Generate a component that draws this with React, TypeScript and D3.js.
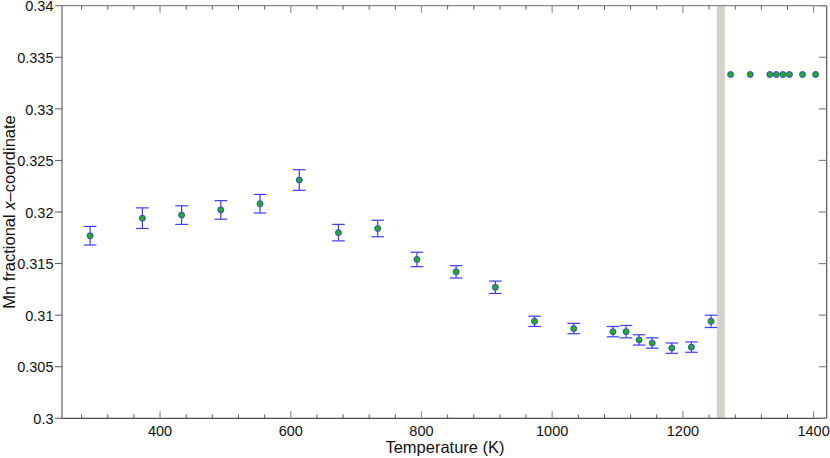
import * as d3 from 'd3';

// Mn fractional x-coordinate vs temperature (with error bars)
const temps = [293, 373, 433, 493, 553, 613, 673, 733, 793, 853, 913, 973, 1033, 1093, 1113, 1133, 1153, 1183, 1213, 1243];
const mnX = [0.3177, 0.3194, 0.3197, 0.3202, 0.3208, 0.3231, 0.3180, 0.3184, 0.3154, 0.3142, 0.3127, 0.3094, 0.3087, 0.3084, 0.3084, 0.3076, 0.3073, 0.3068, 0.3069, 0.3094];
const mnErr = [0.0009, 0.001, 0.0009, 0.0009, 0.0009, 0.001, 0.0008, 0.0008, 0.0007, 0.0006, 0.0006, 0.0005, 0.0005, 0.0005, 0.0006, 0.0005, 0.0005, 0.0005, 0.0005, 0.0006];

// high temperature phase: fixed at 1/3
const hiTemps = [1273, 1303, 1333, 1343, 1353, 1363, 1383, 1403];
const hiX = [0.33333, 0.33333, 0.33333, 0.33333, 0.33333, 0.33333, 0.33333, 0.33333];

const transitionBand = [1252, 1264];

const xTicks = [400, 600, 800, 1000, 1200, 1400];
const yTicks = [0.3, 0.305, 0.31, 0.315, 0.32, 0.325, 0.33, 0.335, 0.34];

const width = 830;
const height = 458;
const margin = { top: 5.7, right: 3.3, bottom: 39.7, left: 62 };
const font = 'Liberation Sans, Arial, Helvetica, sans-serif';

export default function App() {
  const x = d3.scaleLinear().domain([250, 1420]).range([margin.left, width - margin.right]);
  const y = d3.scaleLinear().domain([0.3, 0.34]).range([height - margin.bottom, margin.top]);

  const x0 = margin.left;
  const x1 = width - margin.right;
  const y0 = height - margin.bottom;
  const y1 = margin.top;

  const minorX = d3.range(280, 1420, 40).filter(v => v % 200 !== 0);
  const capW = 6.3;
  const errColor = '#3d3df5';

  return (
    <svg width={width} height={height} style={{ position: 'absolute', left: 0, top: 0, background: '#fff' }}>
      {/* transition band */}
      <rect
        x={x(transitionBand[0])}
        y={y1}
        width={x(transitionBand[1]) - x(transitionBand[0])}
        height={y0 - y1}
        fill="#d6d1c9"
      />

      {/* frame */}
      <line x1={x0} x2={x1} y1={y1} y2={y1} stroke="#8a8a8a" strokeWidth={1.3} />
      <line x1={x1} x2={x1} y1={y1} y2={y0} stroke="#555" strokeWidth={1.2} />
      <line x1={x0} x2={x1} y1={y0} y2={y0} stroke="#222" strokeWidth={1} />
      <line x1={x0} x2={x0} y1={y1} y2={y0} stroke="#8a8a8a" strokeWidth={1.6} />

      {/* x ticks, inside, top and bottom */}
      {minorX.map(v => (
        <g key={'mx' + v}>
          <line x1={x(v)} x2={x(v)} y1={y0} y2={y0 - 4} stroke="#333" strokeWidth={0.8} />
          <line x1={x(v)} x2={x(v)} y1={y1} y2={y1 + 4} stroke="#333" strokeWidth={0.8} />
        </g>
      ))}
      {xTicks.map(v => (
        <g key={'x' + v}>
          <line x1={x(v)} x2={x(v)} y1={y0} y2={y0 - 7} stroke="#999" strokeWidth={1.3} />
          <line x1={x(v)} x2={x(v)} y1={y1} y2={y1 + 7} stroke="#999" strokeWidth={1.3} />
          <text x={x(v)} y={436} textAnchor="middle" fontFamily={font} fontSize={14.5} fill="#111">
            {v}
          </text>
        </g>
      ))}

      {/* y ticks: outward on left, inward on right */}
      {yTicks.map(v => (
        <g key={'y' + v}>
          <line x1={x0 - 7} x2={x0} y1={y(v)} y2={y(v)} stroke="#555" strokeWidth={1} />
          <line x1={x1 - 8} x2={x1} y1={y(v)} y2={y(v)} stroke="#888" strokeWidth={1.2} />
          <text x={53.5} y={y(v)} dy="0.39em" textAnchor="end" fontFamily={font} fontSize={14.5} fill="#111">
            {d3.format('')(+v.toFixed(3))}
          </text>
        </g>
      ))}

      {/* error bars */}
      {temps.map((t, i) => {
        const cx = x(t);
        const top = y(mnX[i] + mnErr[i]);
        const bot = y(mnX[i] - mnErr[i]);
        return (
          <g key={'e' + t} stroke={errColor} strokeWidth={1.2}>
            <line x1={cx} x2={cx} y1={top} y2={bot} />
            <line x1={cx - capW} x2={cx + capW} y1={top} y2={top} />
            <line x1={cx - capW} x2={cx + capW} y1={bot} y2={bot} />
          </g>
        );
      })}

      {/* markers */}
      {temps.map((t, i) => (
        <circle key={'p' + t} cx={x(t)} cy={y(mnX[i])} r={3} fill="#1fae22" stroke="#3a48d8" strokeWidth={1} />
      ))}
      {hiTemps.map((t, i) => (
        <circle key={'h' + t} cx={x(t)} cy={y(hiX[i])} r={3} fill="#1fae22" stroke="#3a48d8" strokeWidth={1} />
      ))}

      {/* axis titles */}
      <text x={445} y={453} textAnchor="middle" fontFamily={font} fontSize={16.5} fill="#111">
        Temperature (K)
      </text>
      <text
        transform={`translate(14.5, ${(y0 + y1) / 2}) rotate(-90)`}
        textAnchor="middle"
        fontFamily={font}
        fontSize={16.5}
        fill="#111"
      >
        Mn fractional <tspan fontStyle="italic">x</tspan>–coordinate
      </text>
    </svg>
  );
}
